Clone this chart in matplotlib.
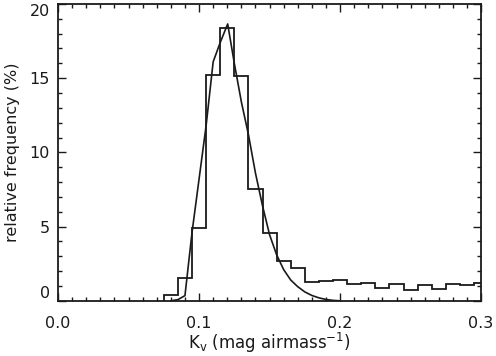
import numpy as np
import matplotlib
matplotlib.use('Agg')
import matplotlib.pyplot as plt
from matplotlib.ticker import MultipleLocator

# histogram of extinction coefficients, 0.01 wide bins
bin_edges = [0.075, 0.085, 0.095, 0.105, 0.115, 0.125, 0.135, 0.145, 0.155,
             0.165, 0.175, 0.185, 0.195, 0.205, 0.215, 0.225, 0.235, 0.245,
             0.255, 0.265, 0.275, 0.285, 0.295, 0.305]
freq = [0.38, 1.52, 4.9, 15.2, 18.35, 15.15, 7.5, 4.6, 2.65,
        2.24, 1.30, 1.36, 1.42, 1.10, 1.19, 0.85, 1.14, 0.74,
        1.08, 0.79, 1.14, 1.08, 1.19]

# fitted curve
fit_x = [0.080, 0.085, 0.090, 0.095, 0.100, 0.105, 0.110, 0.115, 0.1203,
         0.125, 0.130, 0.135, 0.140, 0.145, 0.150, 0.155, 0.160, 0.165,
         0.170, 0.175, 0.180, 0.185, 0.190, 0.195, 0.200]
fit_y = [0.0, 0.08, 0.35, 4.6, 8.2, 11.8, 16.1, 17.4, 18.65,
         16.0, 13.4, 11.2, 8.6, 6.4, 4.45, 3.1, 2.1, 1.4,
         0.95, 0.6, 0.36, 0.2, 0.09, 0.03, 0.0]

xticks = [0.0, 0.1, 0.2, 0.3]
xticklabels = ['0.0', '0.1', '0.2', '0.3']
yticks = [0, 5, 10, 15, 20]

ink = '#1a1a1a'

fig = plt.figure(figsize=(4.96, 3.56), dpi=100)
ax = fig.add_axes([0.117, 0.155, 0.853, 0.834])

ax.stairs(freq, bin_edges, color=ink, lw=1.3)
ax.plot(fit_x, fit_y, color=ink, lw=1.2)

ax.set_xlim(0.0, 0.3)
ax.set_ylim(0, 20)
ax.set_xticks(xticks)
ax.set_xticklabels(xticklabels)
ax.set_yticks(yticks)
ax.xaxis.set_minor_locator(MultipleLocator(0.01))
ax.yaxis.set_minor_locator(MultipleLocator(1))

ax.tick_params(which='both', direction='in', top=True, right=True,
               color=ink, labelcolor=ink, labelsize=11.5)
ax.tick_params(which='major', length=6, width=1)
ax.tick_params(which='minor', length=3, width=1)
ax.tick_params(axis='x', pad=11)
ax.tick_params(axis='y', pad=6)
for s in ax.spines.values():
    s.set_color(ink)
    s.set_linewidth(1.3)

# IDL style: end labels kept inside the axis range
ylabs = ax.get_yticklabels()
ylabs[0].set_va('bottom')
ylabs[-1].set_va('top')

ax.set_xlabel(r'K$_{\rm v}$ (mag airmass$^{-1}$)', fontsize=12, color=ink, labelpad=0)
ax.set_ylabel('relative frequency (%)', fontsize=11.5, color=ink, labelpad=7)

fig.savefig('out.png', dpi=100)
